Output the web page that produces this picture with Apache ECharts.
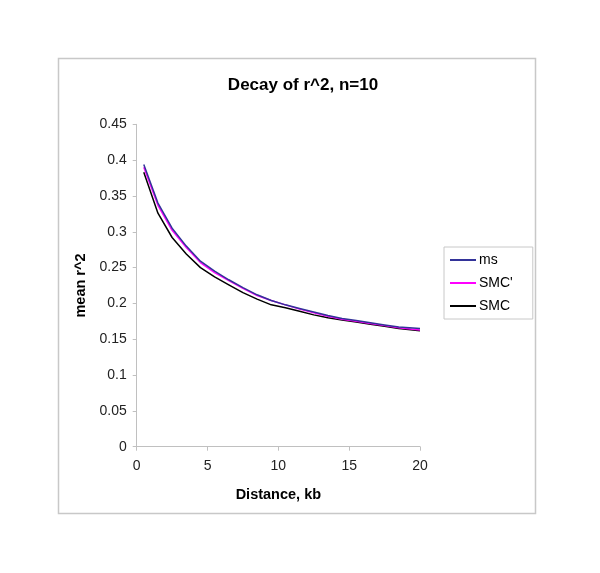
<!DOCTYPE html>
<html>
<head>
<meta charset="utf-8">
<script src="https://cdn.jsdelivr.net/npm/echarts@6/dist/echarts.min.js"></script>
<style>html,body{margin:0;padding:0;background:#fff;}#c{width:600px;height:573px;}</style>
</head>
<body>
<div id="c"></div>
<script>
var distance = [0.5,1.5,2.5,3.5,4.5,5.5,6.5,7.5,8.5,9.5,10.5,11.5,12.5,13.5,14.5,15.5,16.5,17.5,18.5,20];
var ms     = [0.394,0.340,0.305,0.280,0.259,0.245,0.233,0.222,0.212,0.204,0.198,0.193,0.188,0.183,0.179,0.176,0.173,0.170,0.167,0.165];
var smcP   = [0.390,0.337,0.302,0.278,0.257,0.243,0.232,0.221,0.211,0.204,0.198,0.192,0.187,0.182,0.178,0.175,0.172,0.169,0.166,0.163];
var smc    = [0.383,0.326,0.292,0.269,0.250,0.237,0.226,0.215,0.206,0.198,0.194,0.189,0.184,0.180,0.177,0.174,0.171,0.168,0.165,0.162];
var seriesNames = ['ms', "SMC'", 'SMC'];
var seriesColors = ['#333399', '#ff00ff', '#000000'];

function pairs(xs, ys){ return xs.map(function(x,i){ return [x, ys[i]]; }); }
var allData = [ms, smcP, smc];

var chart = echarts.init(document.getElementById('c'));
chart.setOption({
  backgroundColor: '#fff',
  animation: false,
  graphic: [{
    type: 'rect', shape: {x: 58.5, y: 58.5, width: 477, height: 455},
    style: {fill: 'none', stroke: '#c8c8c8', lineWidth: 1.5}, silent: true
  }],
  title: {
    text: 'Decay of r^2, n=10', left: 298, top: 72, textAlign: 'center',
    textStyle: {fontFamily: 'Liberation Sans, Arial, sans-serif', fontWeight: 'bold', fontSize: 17, color: '#000'}
  },
  legend: {
    orient: 'vertical', left: 444, top: 247,
    padding: [5, 20, 5, 6], itemGap: 7,
    borderColor: '#c8c8c8', borderWidth: 1, itemWidth: 26, itemHeight: 2,
    icon: 'rect',
    textStyle: {fontFamily: 'Liberation Sans, Arial, sans-serif', fontSize: 14, color: '#000', lineHeight: 16, padding: [0,0,0,-2]},
    data: seriesNames
  },
  grid: {left: 136.7, right: 180, top: 124.3, bottom: 126.3, containLabel: false},
  xAxis: {
    type: 'value', min: 0, max: 20, interval: 5,
    name: 'Distance, kb', nameLocation: 'middle', nameGap: 41,
    nameTextStyle: {fontFamily: 'Liberation Sans, Arial, sans-serif', fontWeight: 'bold', fontSize: 14.5, color: '#000'},
    axisLine: {lineStyle: {color: '#c0c0c0', width: 1}},
    axisTick: {show: true, length: 4, lineStyle: {color: '#c0c0c0'}},
    splitLine: {show: false},
    axisLabel: {fontFamily: 'Liberation Sans, Arial, sans-serif', fontSize: 14, color: '#222', margin: 12}
  },
  yAxis: {
    type: 'value', min: 0, max: 0.45, interval: 0.05,
    name: 'mean r^2', nameLocation: 'middle', nameGap: 48, nameRotate: 90,
    nameTextStyle: {fontFamily: 'Liberation Sans, Arial, sans-serif', fontWeight: 'bold', fontSize: 14.5, color: '#000'},
    axisLine: {show: true, lineStyle: {color: '#c0c0c0', width: 1}},
    axisTick: {show: true, length: 4, lineStyle: {color: '#c0c0c0'}},
    splitLine: {show: false},
    axisLabel: {fontFamily: 'Liberation Sans, Arial, sans-serif', fontSize: 14, color: '#222', margin: 10,
      formatter: function(v){ return String(parseFloat(v.toFixed(2))); }}
  },
  series: seriesNames.map(function(n, i){
    return {
      name: n, type: 'line', data: pairs(distance, allData[i]),
      showSymbol: false, symbol: 'none',
      lineStyle: {color: seriesColors[i], width: 1.5},
      itemStyle: {color: seriesColors[i]},
      z: 3 - i
    };
  })
});
</script>
</body>
</html>
